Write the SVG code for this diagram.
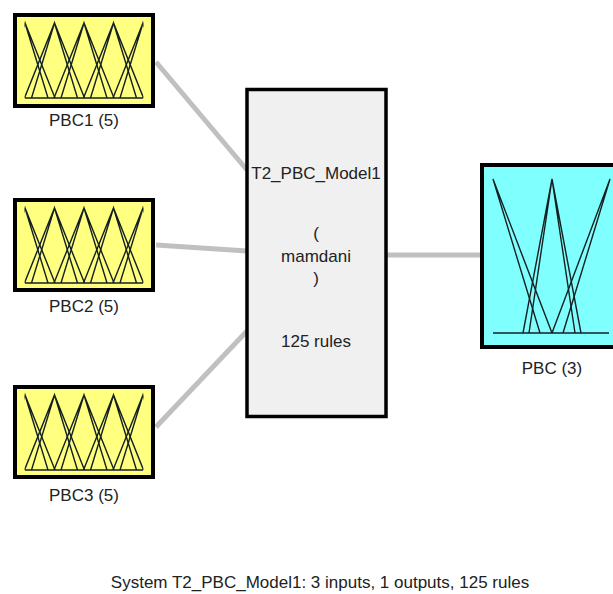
<svg xmlns="http://www.w3.org/2000/svg" width="613" height="594" viewBox="0 0 613 594">
<style>
.lbl{font-family:"Liberation Sans",Arial,sans-serif;font-size:17px;fill:#222;text-anchor:middle}
.in{fill:#ffff80;stroke:#000;stroke-width:4}
.out{fill:#80ffff;stroke:#000;stroke-width:4}
.sys{fill:#f0f0f0;stroke:#000;stroke-width:3.5}
.mf{fill:none;stroke:#142020;stroke-width:1.4}
.con{stroke:#c0c0c0;stroke-width:5;fill:none}
</style>
<defs>
<clipPath id="inclip"><rect x="24.5" y="0" width="119" height="594"/></clipPath>
<g id="mf5">
<g clip-path="url(#inclip)">
<path class="mf" d="M-5,85 L25,10 L55,85 M2,85 L25,10 L48,85"/>
<path class="mf" d="M24.5,85 L54.5,10 L84.5,85 M31.5,85 L54.5,10 L77.5,85"/>
<path class="mf" d="M54,85 L84,10 L114,85 M61,85 L84,10 L107,85"/>
<path class="mf" d="M83.5,85 L113.5,10 L143.5,85 M90.5,85 L113.5,10 L136.5,85"/>
<path class="mf" d="M113,85 L143,10 L173,85 M120,85 L143,10 L166,85"/>
</g>
<line class="mf" x1="25" y1="85" x2="143" y2="85"/>
</g>
</defs>
<g id="connectors">
<line class="con" x1="156" y1="62" x2="247" y2="170"/>
<line class="con" x1="156" y1="245" x2="247" y2="251"/>
<line class="con" x1="156" y1="427" x2="247" y2="331"/>
<line class="con" x1="387" y1="255" x2="481" y2="255"/>
</g>
<g id="PBC1">
<rect class="in" x="15" y="15" width="138" height="91"/>
<use href="#mf5" x="0" y="13"/>
<text class="lbl" x="84" y="126">PBC1 (5)</text>
</g>
<g id="PBC2">
<rect class="in" x="15" y="200" width="138" height="90"/>
<use href="#mf5" x="0" y="198"/>
<text class="lbl" x="84" y="312">PBC2 (5)</text>
</g>
<g id="PBC3">
<rect class="in" x="15" y="387" width="138" height="90"/>
<use href="#mf5" x="0" y="385"/>
<text class="lbl" x="84" y="501">PBC3 (5)</text>
</g>
<g id="T2_PBC_Model1">
<rect class="sys" x="247" y="89.5" width="139" height="327"/>
<text class="lbl" x="316" y="179">T2_PBC_Model1</text>
<text class="lbl" x="316" y="239">(</text>
<text class="lbl" x="316" y="262">mamdani</text>
<text class="lbl" x="316" y="284">)</text>
<text class="lbl" x="316" y="347">125 rules</text>
</g>
<g id="PBC">
<rect class="out" x="482" y="165" width="140" height="182"/>
<path class="mf" d="M493,179 L552,333 M493,179 L540,333"/>
<path class="mf" d="M523,333 L552,179 L581,333 M529,333 L552,179 L575,333"/>
<path class="mf" d="M610,179 L552,333 M610,179 L563,333"/>
<line class="mf" x1="493" y1="333" x2="609" y2="333"/>
<text class="lbl" x="552" y="374">PBC (3)</text>
</g>
<text class="lbl" x="320" y="588">System T2_PBC_Model1: 3 inputs, 1 outputs, 125 rules</text>
</svg>
